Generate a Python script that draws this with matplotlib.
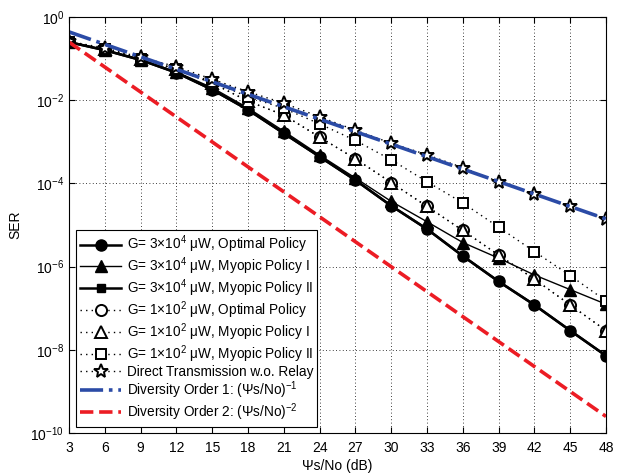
import matplotlib
matplotlib.use('Agg')
import matplotlib.pyplot as plt
import numpy as np

plt.rcParams['font.family'] = ['Liberation Sans', 'DejaVu Sans']
plt.rcParams['mathtext.fontset'] = 'custom'
plt.rcParams['mathtext.rm'] = 'Liberation Sans'
plt.rcParams['mathtext.it'] = 'Liberation Sans:italic'
plt.rcParams['mathtext.bf'] = 'Liberation Sans:bold'

# SNR axis (dB)
snr_db = [3, 6, 9, 12, 15, 18, 21, 24, 27, 30, 33, 36, 39, 42, 45, 48]

# G = 3x10^4 uW
opt_hi = [0.25, 0.16, 0.093, 0.046, 0.018, 0.0059, 0.0016, 4.4e-4, 1.2e-4,
          2.9e-5, 8.0e-6, 1.8e-6, 4.4e-7, 1.2e-7, 2.9e-8, 7.2e-9]
myo1_hi = [0.25, 0.16, 0.095, 0.048, 0.020, 0.0065, 0.0018, 4.8e-4, 1.35e-4,
           3.7e-5, 1.2e-5, 3.8e-6, 1.6e-6, 6.3e-7, 2.8e-7, 1.25e-7]
myo2_hi = opt_hi

# G = 1x10^2 uW
opt_lo = [0.25, 0.17, 0.10, 0.055, 0.026, 0.0095, 0.0044, 1.3e-3, 3.9e-4,
          1.05e-4, 2.8e-5, 7.4e-6, 1.9e-6, 5.0e-7, 1.2e-7, 2.9e-8]
myo1_lo = opt_lo
myo2_lo = [0.25, 0.17, 0.10, 0.057, 0.028, 0.012, 0.0064, 2.7e-3, 1.08e-3,
           3.7e-4, 1.1e-4, 3.4e-5, 8.9e-6, 2.3e-6, 6.1e-7, 1.5e-7]

# direct transmission
direct = [0.26, 0.18, 0.108, 0.064, 0.032, 0.016, 0.0085, 4.0e-3, 1.9e-3,
          9.3e-4, 4.9e-4, 2.4e-4, 1.1e-4, 5.6e-5, 2.8e-5, 1.4e-5]

# reference slopes (end points)
div_x = [3, 48]
div1 = [0.44, 1.4e-5]
div2 = [0.25, 2.5e-10]

fig = plt.figure(figsize=(6.19, 4.74), dpi=100)
ax = fig.add_axes([0.1115, 0.0865, 0.8675, 0.8775])

ms = 8
ax.plot(snr_db, opt_hi, '-', color='black', lw=1.8, marker='o', ms=ms,
        mfc='black', mec='black', label='G= 3×10$^4$ μW, Optimal Policy')
ax.plot(snr_db, myo1_hi, '-', color='black', lw=1.0, marker='^', ms=ms,
        mfc='black', mec='black', label='G= 3×10$^4$ μW, Myopic Policy I')
ax.plot(snr_db, myo2_hi, '-', color='black', lw=1.8, marker='s', ms=5.5,
        mfc='black', mec='black', label='G= 3×10$^4$ μW, Myopic Policy II')

dot = (0, (1, 3))
ax.plot(snr_db, opt_lo, color='black', ls=dot, lw=1.0, marker='o', ms=ms,
        mfc='white', mec='black', mew=1.4, label='G= 1×10$^2$ μW, Optimal Policy')
ax.plot(snr_db, myo1_lo, color='black', ls=dot, lw=1.0, marker='^', ms=ms,
        mfc='white', mec='black', mew=1.4, label='G= 1×10$^2$ μW, Myopic Policy I')
ax.plot(snr_db, myo2_lo, color='black', ls=dot, lw=1.0, marker='s', ms=7,
        mfc='white', mec='black', mew=1.4, label='G= 1×10$^2$ μW, Myopic Policy II')
ax.plot(snr_db, direct, color='black', ls=dot, lw=1.0, marker='*', ms=10,
        mfc='white', mec='black', mew=1.4, label='Direct Transmission w.o. Relay')

ax.plot(div_x, div1, color='#2b4ba6', ls='-.', lw=2.6,
        label='Diversity Order 1: (Ψs/No)$^{-1}$')
ax.plot(div_x, div2, color='#ec1c24', ls='--', lw=2.6,
        label='Diversity Order 2: (Ψs/No)$^{-2}$')

ax.set_yscale('log')
ax.set_xlim(3, 48)
ax.set_ylim(1e-10, 1)
ax.set_xticks(snr_db)
ax.set_yticks([1e-10, 1e-8, 1e-6, 1e-4, 1e-2, 1])
ax.yaxis.set_minor_locator(matplotlib.ticker.NullLocator())
ax.tick_params(direction='in', top=True, right=True, labelsize=10, length=4)
ax.tick_params(axis='x', pad=6)
ax.grid(True, which='major', color='black', ls=(0, (1, 3)), lw=0.6)

ax.set_xlabel('Ψs/No (dB)', fontsize=10, labelpad=3)
ax.set_ylabel('SER', fontsize=10, labelpad=6)

leg = ax.legend(loc='lower left', bbox_to_anchor=(0.006, 0.005), fontsize=9.8,
                handlelength=3.0, labelspacing=0.02, borderpad=0.3,
                handletextpad=0.4, borderaxespad=0.3, fancybox=False,
                framealpha=1, edgecolor='black')
leg.get_frame().set_linewidth(0.8)

fig.savefig('out.png', dpi=100, facecolor='white')
